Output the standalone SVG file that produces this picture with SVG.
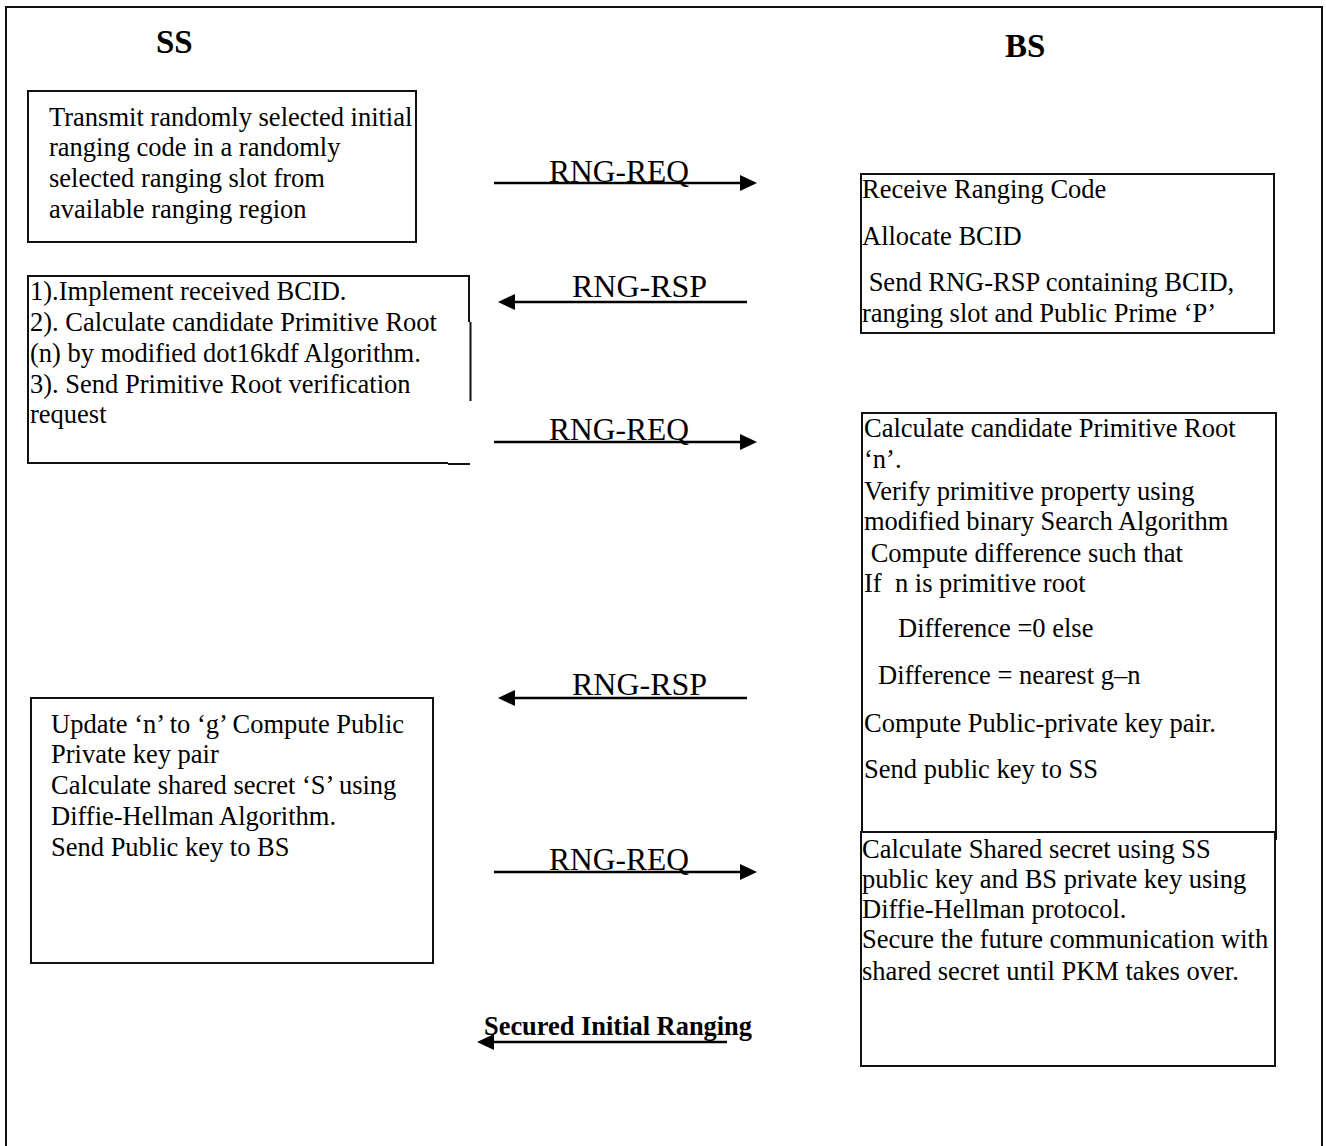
<svg xmlns="http://www.w3.org/2000/svg" width="1326" height="1146" viewBox="0 0 1326 1146">
<style>
.box{fill:none;stroke:#111;stroke-width:2}
.t{font-family:"Liberation Serif","Times New Roman",serif;font-size:26.5px;fill:#000;white-space:pre}
.lbl{font-family:"Liberation Serif","Times New Roman",serif;font-size:31px;fill:#000}
.title{font-family:"Liberation Serif","Times New Roman",serif;font-size:33px;font-weight:bold;fill:#000}
.sec{font-family:"Liberation Serif","Times New Roman",serif;font-size:26.5px;font-weight:bold;fill:#000}
.arr{stroke:#000;stroke-width:2.5;fill:none;marker-end:url(#ah)}
</style>
<defs>
<marker id="ah" markerUnits="userSpaceOnUse" markerWidth="17" markerHeight="16" refX="1" refY="8" orient="auto">
<path d="M0,0 L17,8 L0,16 z" fill="#000"/>
</marker>
</defs>
<rect width="1326" height="1146" fill="#fff"/>
<g id="frame">
<path class="box" d="M6,1150 V7 H1322 V1150"/>
</g>
<g id="title-ss"><text class="title" x="156" y="53">SS</text></g>
<g id="title-bs"><text class="title" x="1005" y="57">BS</text></g>

<g id="ss-step1">
<rect class="box" x="28" y="91" width="388" height="151"/>
<text class="t" x="49" y="126">Transmit randomly selected initial</text>
<text class="t" x="49" y="156">ranging code in a randomly</text>
<text class="t" x="49" y="187">selected ranging slot from</text>
<text class="t" x="49" y="218">available ranging region</text>
</g>

<g id="ss-step2">
<path class="box" d="M469,322 V276 H28 V463 H448"/>
<path class="box" d="M470.5,322 V401 M448,464 H470"/>
<text class="t" x="30" y="300">1).Implement received BCID.</text>
<text class="t" x="30" y="331">2). Calculate candidate Primitive Root</text>
<text class="t" x="30" y="362">(n) by modified dot16kdf Algorithm.</text>
<text class="t" x="30" y="393">3). Send Primitive Root verification</text>
<text class="t" x="30" y="423">request</text>
</g>

<g id="ss-step3">
<rect class="box" x="31" y="698" width="402" height="265"/>
<text class="t" x="51" y="733">Update ‘n’ to ‘g’ Compute Public</text>
<text class="t" x="51" y="763">Private key pair</text>
<text class="t" x="51" y="794">Calculate shared secret ‘S’ using</text>
<text class="t" x="51" y="825">Diffie-Hellman Algorithm.</text>
<text class="t" x="51" y="856">Send Public key to BS</text>
</g>

<g id="bs-step1">
<rect class="box" x="861" y="174" width="413" height="159"/>
<text class="t" x="862" y="198">Receive Ranging Code</text>
<text class="t" x="862" y="245">Allocate BCID</text>
<text class="t" x="862" y="291"> Send RNG-RSP containing BCID,</text>
<text class="t" x="862" y="322">ranging slot and Public Prime ‘P’</text>
</g>

<g id="bs-step2">
<path class="box" d="M862,832 V413 H1276 V840"/>
<text class="t" x="864" y="437">Calculate candidate Primitive Root</text>
<text class="t" x="864" y="468">‘n’.</text>
<text class="t" x="864" y="500">Verify primitive property using</text>
<text class="t" x="864" y="530">modified binary Search Algorithm</text>
<text class="t" x="864" y="562"> Compute difference such that</text>
<text class="t" x="864" y="592">If  n is primitive root</text>
<text class="t" x="898" y="637">Difference =0 else</text>
<text class="t" x="878" y="684">Difference = nearest g–n</text>
<text class="t" x="864" y="732">Compute Public-private key pair.</text>
<text class="t" x="864" y="778">Send public key to SS</text>
</g>

<g id="bs-step3">
<rect class="box" x="861" y="832" width="414" height="234"/>
<text class="t" x="862" y="858">Calculate Shared secret using SS</text>
<text class="t" x="862" y="888">public key and BS private key using</text>
<text class="t" x="862" y="918">Diffie-Hellman protocol.</text>
<text class="t" x="862" y="948">Secure the future communication with</text>
<text class="t" x="862" y="980">shared secret until PKM takes over.</text>
</g>

<g id="connectors">
<line class="arr" x1="494" y1="183" x2="741" y2="183"/>
<text class="lbl" x="549" y="182" textLength="140" lengthAdjust="spacingAndGlyphs">RNG-REQ</text>
<line class="arr" x1="747" y1="302" x2="514" y2="302"/>
<text class="lbl" x="572" y="297" textLength="135" lengthAdjust="spacingAndGlyphs">RNG-RSP</text>
<line class="arr" x1="494" y1="442" x2="741" y2="442"/>
<text class="lbl" x="549" y="440" textLength="140" lengthAdjust="spacingAndGlyphs">RNG-REQ</text>
<line class="arr" x1="747" y1="698" x2="514" y2="698"/>
<text class="lbl" x="572" y="695" textLength="135" lengthAdjust="spacingAndGlyphs">RNG-RSP</text>
<line class="arr" x1="494" y1="872" x2="741" y2="872"/>
<text class="lbl" x="549" y="870" textLength="140" lengthAdjust="spacingAndGlyphs">RNG-REQ</text>
<line class="arr" x1="727" y1="1042" x2="493" y2="1042"/>
<text class="sec" x="484" y="1035" textLength="268" lengthAdjust="spacingAndGlyphs">Secured Initial Ranging</text>
</g>
</svg>
